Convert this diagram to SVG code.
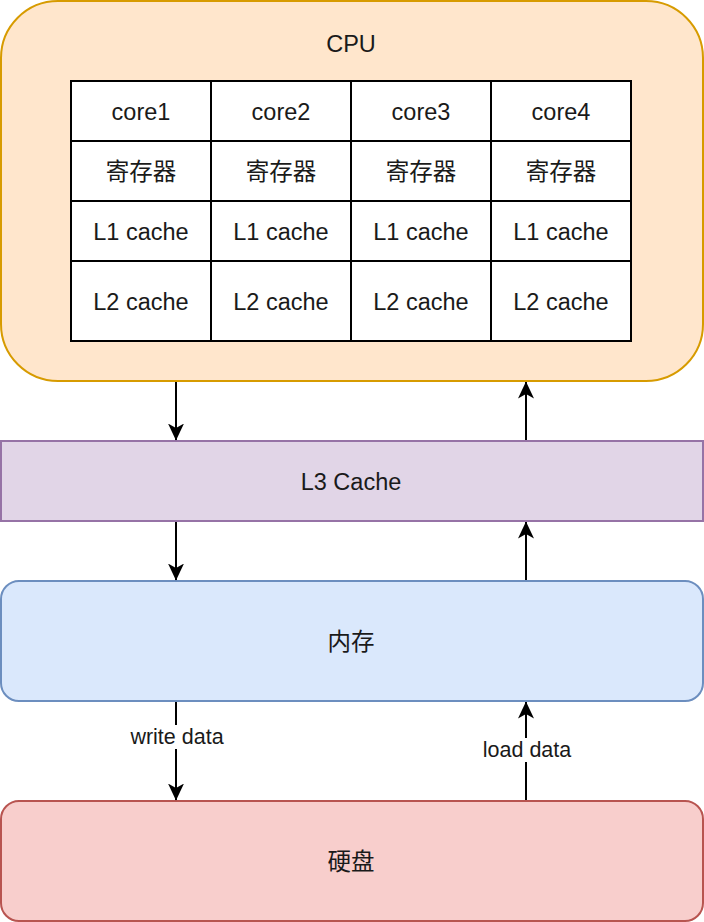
<svg xmlns="http://www.w3.org/2000/svg" width="704" height="922" viewBox="0 0 704 922">
<style>
text{font-family:"Liberation Sans",Arial,"Noto Sans CJK SC",sans-serif;fill:#1a1a1a;text-anchor:middle;dominant-baseline:central}
.t{font-size:23.5px}
.lbl{font-size:21.5px}
.cell{fill:#ffffff;stroke:#000000;stroke-width:2}
.edge{stroke:#000000;stroke-width:2;fill:none}
</style>
<defs>
<marker id="arr" viewBox="0 0 17 17" refX="16.5" refY="8.5" markerWidth="17" markerHeight="17" markerUnits="userSpaceOnUse" orient="auto">
<path d="M0,0.5 L17,8.5 L0,16.5 L4.5,8.5 Z" fill="#000000"/>
</marker>
</defs>
<g id="cpu">
<rect x="1" y="1" width="702" height="380" rx="57" ry="57" fill="#ffe6cc" stroke="#d79b00" stroke-width="2"/>
<text class="t" x="351" y="44">CPU</text>
</g>
<g id="grid">
<rect class="cell" x="71" y="81" width="560" height="260"/>
<g class="edge">
<line x1="211" y1="81" x2="211" y2="341"/>
<line x1="351" y1="81" x2="351" y2="341"/>
<line x1="491" y1="81" x2="491" y2="341"/>
<line x1="71" y1="141" x2="631" y2="141"/>
<line x1="71" y1="201" x2="631" y2="201"/>
<line x1="71" y1="261" x2="631" y2="261"/>
</g>
<text class="t" x="141" y="112">core1</text>
<text class="t" x="281" y="112">core2</text>
<text class="t" x="421" y="112">core3</text>
<text class="t" x="561" y="112">core4</text>
<text class="t" x="141" y="172">寄存器</text>
<text class="t" x="281" y="172">寄存器</text>
<text class="t" x="421" y="172">寄存器</text>
<text class="t" x="561" y="172">寄存器</text>
<text class="t" x="141" y="232">L1 cache</text>
<text class="t" x="281" y="232">L1 cache</text>
<text class="t" x="421" y="232">L1 cache</text>
<text class="t" x="561" y="232">L1 cache</text>
<text class="t" x="141" y="302">L2 cache</text>
<text class="t" x="281" y="302">L2 cache</text>
<text class="t" x="421" y="302">L2 cache</text>
<text class="t" x="561" y="302">L2 cache</text>
</g>
<g id="l3">
<rect x="1" y="441" width="702" height="80" fill="#e1d5e7" stroke="#9673a6" stroke-width="2"/>
<text class="t" x="351" y="482">L3 Cache</text>
</g>
<g id="memory">
<rect x="1" y="581" width="702" height="120" rx="18" ry="18" fill="#dae8fc" stroke="#6c8ebf" stroke-width="2"/>
<text class="t" x="351" y="642">内存</text>
</g>
<g id="disk">
<rect x="1" y="801" width="702" height="120" rx="18" ry="18" fill="#f8cecc" stroke="#b85450" stroke-width="2"/>
<text class="t" x="351" y="862">硬盘</text>
</g>
<g id="connectors">
<line class="edge" x1="176" y1="382" x2="176" y2="440" marker-end="url(#arr)"/>
<line class="edge" x1="526" y1="440" x2="526" y2="382" marker-end="url(#arr)"/>
<line class="edge" x1="176" y1="522" x2="176" y2="580" marker-end="url(#arr)"/>
<line class="edge" x1="526" y1="580" x2="526" y2="522" marker-end="url(#arr)"/>
<line class="edge" x1="176" y1="702" x2="176" y2="800" marker-end="url(#arr)"/>
<line class="edge" x1="526" y1="800" x2="526" y2="702" marker-end="url(#arr)"/>
<rect x="124" y="725" width="106" height="24" fill="#ffffff"/>
<text class="lbl" x="177" y="737">write data</text>
<rect x="478" y="738" width="98" height="24" fill="#ffffff"/>
<text class="lbl" x="527" y="750">load data</text>
</g>
</svg>
